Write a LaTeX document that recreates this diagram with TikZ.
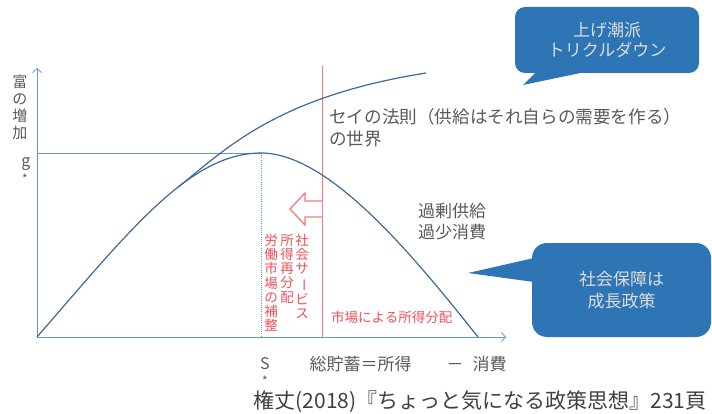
\documentclass[tikz,border=0pt]{standalone}
\usepackage{fontspec}
\usepackage{graphicx}
\setmainfont{Noto Sans CJK JP}
\usetikzlibrary{arrows.meta}
\definecolor{axisblue}{HTML}{5B9BD5}
\definecolor{curveblue}{HTML}{3A6A9F}
\definecolor{redline}{HTML}{F4777F}
\definecolor{redtext}{HTML}{F0505A}
\definecolor{labelgray}{HTML}{595959}
\definecolor{citegray}{HTML}{404040}
\definecolor{callblue}{HTML}{2E75B6}
\definecolor{calltext}{HTML}{DDDDDD}
\newcommand{\vbar}{\rotatebox[origin=c]{-90}{ー}}
\tikzset{
  axisline/.style={axisblue, line width=0.8pt, -{Straight Barb[length=4pt,width=9pt]}},
  guide/.style={axisblue, line width=0.6pt},
  curve/.style={curveblue, line width=1.2pt},
  lbl/.style={text=labelgray, inner sep=0pt},
  redlbl/.style={text=redtext, inner sep=0pt, align=center, font=\fontsize{13.5}{14.2}\selectfont},
  callbody/.style={fill=callblue, inner sep=0pt, text=calltext, align=center},
}
\begin{document}
\begin{tikzpicture}[x=1pt,y=-1pt]
\useasboundingbox (0,0) rectangle (712,414);

% coordinates
\coordinate (O) at (37,337);
\coordinate (Ytop) at (37,68);
\coordinate (Xend) at (506,337);
\coordinate (G) at (37,153);
\coordinate (P) at (261,153);
\coordinate (Sx) at (261,337);
\coordinate (E) at (478,337);
\coordinate (S1) at (178.26,186.95);
\coordinate (U) at (426,73);
\coordinate (Rt) at (322,66);
\coordinate (Rb) at (322,337);

% axes and guides
\draw[guide] (G) -- (P);
\draw[guide, line width=0.8pt, dash pattern=on 1pt off 1.2pt] (P) -- (Sx);
\draw[axisline] (O) -- (Ytop);
\draw[axisline] (O) -- (Xend);

% red line and arrow
\draw[redline, line width=1pt] (Rt) -- (Rb);
\draw[redline, line width=1.3pt, line join=miter, fill=white]
  (322,201) -- (305,201) -- (305,193) -- (290,209) -- (305,225) -- (305,217) -- (322,217);

% curves
\draw[curve] (O) .. controls (92.8,272.8) and (136.72,219.4) .. (S1)
  .. controls (205.96,165.32) and (232.6,153) .. (P)
  .. controls (330,153) and (415,258) .. (E);
\draw[curve] (S1) .. controls (225,150) and (275,97) .. (U);

% labels
\node[lbl, align=center, font=\fontsize{15}{17}\selectfont] (wealth) at (20,107) {富\\の\\増\\加};
\node[lbl, font=\fontsize{16}{16}\selectfont] (g) at (26,164) {g};
\node[lbl, font=\fontsize{12}{12}\selectfont] (gs) at (25,179) {*};
\node[lbl, font=\fontsize{16}{16}\selectfont] (S) at (265,364) {S};
\node[lbl, font=\fontsize{12}{12}\selectfont] (Ss) at (265,381) {*};
\node[lbl, font=\fontsize{17}{17}\selectfont] (sav) at (360.5,364) {総貯蓄＝所得};
\node[lbl, anchor=base, font=\fontsize{17}{17}\selectfont] (minus) at ([xshift=94.5pt]sav.base) {－};
\node[lbl, anchor=base, font=\fontsize{17}{17}\selectfont] (cons) at ([xshift=129pt]sav.base) {消費};
\node[text=citegray, inner sep=0pt, font=\fontsize{21}{21}\selectfont] (cite) at (480,402) {権丈(2018)『ちょっと気になる政策思想』231頁};
\node[lbl, align=left, anchor=west, font=\fontsize{17.6}{22}\selectfont] (say) at (329,128) {セイの法則（供給はそれ自らの需要を作る）\\の世界};
\node[lbl, align=center, font=\fontsize{17}{21}\selectfont] (excess) at (452,222) {過剰供給\\過少消費};

% red labels
\node[text=redtext, inner sep=0pt, font=\fontsize{13.5}{14}\selectfont, anchor=west] (mkt) at (331,317) {市場による所得分配};
\node[redlbl, anchor=north] (v1) at (302,234) {社\\会\\サ\\\vbar\\ビ\\ス};
\node[redlbl, anchor=north] (v2) at (287,234) {所\\得\\再\\分\\配};
\node[redlbl, anchor=north] (v3) at (271,234) {労\\働\\市\\場\\の\\補\\整};

% callouts
\fill[callblue] (537,71) -- (523,85) -- (590,71) -- cycle;
\node[callbody, rounded corners=10pt, minimum width=184pt, minimum height=66pt,
  font=\fontsize{17}{20}\selectfont] (c1) at (607,40) {上げ潮派\\トリクルダウン};
\fill[callblue] (534,258) -- (468,273) -- (534,282) -- cycle;
\node[callbody, rounded corners=15pt, minimum width=179pt, minimum height=94pt,
  font=\fontsize{17}{22}\selectfont] (c2) at (621.5,290) {社会保障は\\成長政策};
\end{tikzpicture}
\end{document}
